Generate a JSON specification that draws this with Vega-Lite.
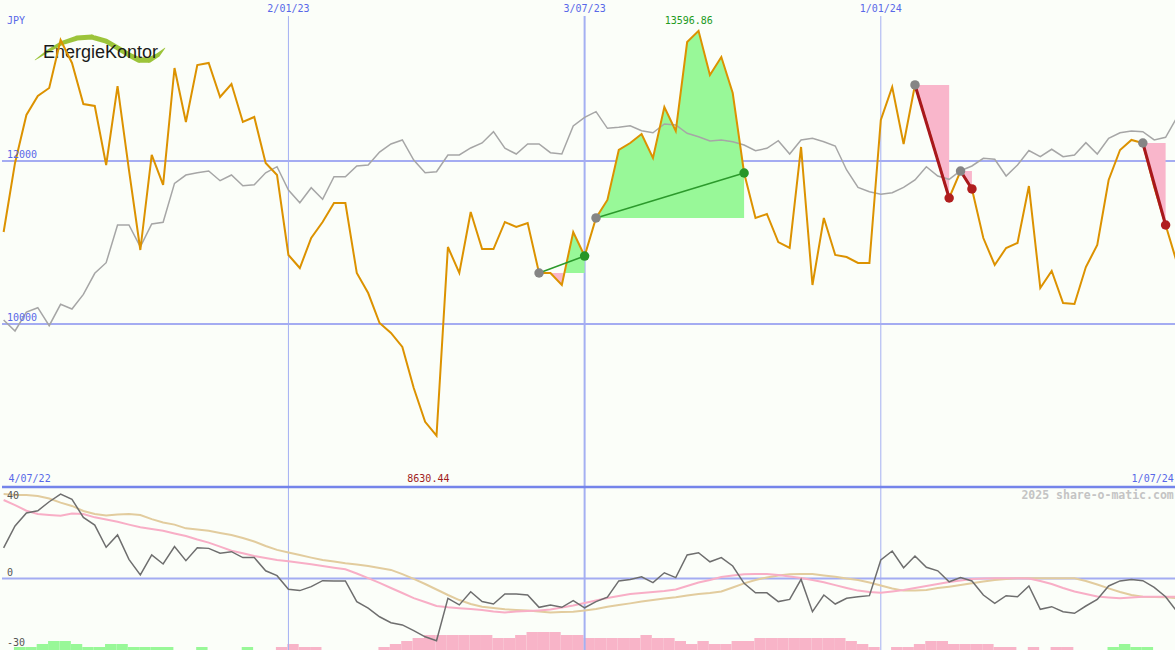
{
"$schema": "https://vega.github.io/schema/vega-lite/v6.json",
"padding": 0,
"spacing": 0,
"bounds": "flush",
"background": "#fbfef9",
"config": {"view": {"stroke": null}},
"datasets": {
"w": [
{"d":"2022-07-11","p":11129,"b":10049,"o":13.9,"m1":35.7,"m2":38.4,"h":0},
{"d":"2022-07-18","p":11976,"b":9914,"o":23.9,"m1":33.4,"m2":38.0,"h":1},
{"d":"2022-07-25","p":12565,"b":10147,"o":29.8,"m1":30.8,"m2":38.0,"h":1},
{"d":"2022-08-01","p":12798,"b":10200,"o":30.8,"m1":29.3,"m2":37.5,"h":2},
{"d":"2022-08-08","p":12896,"b":9979,"o":34.9,"m1":28.9,"m2":36.4,"h":3},
{"d":"2022-08-15","p":13485,"b":10242,"o":38.4,"m1":28.5,"m2":34.5,"h":3},
{"d":"2022-08-22","p":13203,"b":10184,"o":36.0,"m1":29.6,"m2":33.0,"h":2},
{"d":"2022-08-29","p":12699,"b":10364,"o":27.8,"m1":29.3,"m2":30.7,"h":1},
{"d":"2022-09-05","p":12675,"b":10622,"o":24.3,"m1":27.8,"m2":29.3,"h":1},
{"d":"2022-09-12","p":11951,"b":10752,"o":14.2,"m1":26.8,"m2":28.6,"h":2},
{"d":"2022-09-19","p":12920,"b":11215,"o":19.8,"m1":25.8,"m2":29.1,"h":2},
{"d":"2022-09-26","p":11890,"b":11215,"o":8.7,"m1":24.5,"m2":29.3,"h":1},
{"d":"2022-10-03","p":10908,"b":10948,"o":1.6,"m1":23.3,"m2":28.9,"h":1},
{"d":"2022-10-10","p":12074,"b":11227,"o":10.7,"m1":22.5,"m2":27.0,"h":1},
{"d":"2022-10-17","p":11706,"b":11248,"o":6.6,"m1":21.7,"m2":25.5,"h":1},
{"d":"2022-10-24","p":13141,"b":11726,"o":14.5,"m1":20.5,"m2":24.5,"h":0},
{"d":"2022-10-31","p":12479,"b":11828,"o":8.1,"m1":19.3,"m2":22.8,"h":0},
{"d":"2022-11-07","p":13178,"b":11856,"o":14.0,"m1":17.7,"m2":22.3,"h":1},
{"d":"2022-11-14","p":13203,"b":11877,"o":13.7,"m1":16.3,"m2":21.7,"h":0},
{"d":"2022-11-21","p":12785,"b":11758,"o":11.5,"m1":14.5,"m2":20.7,"h":0},
{"d":"2022-11-28","p":12945,"b":11828,"o":12.2,"m1":12.6,"m2":19.8,"h":0},
{"d":"2022-12-05","p":12479,"b":11697,"o":9.5,"m1":11.5,"m2":18.4,"h":1},
{"d":"2022-12-12","p":12540,"b":11709,"o":9.5,"m1":10.2,"m2":16.8,"h":0},
{"d":"2022-12-19","p":11976,"b":11856,"o":3.5,"m1":9.3,"m2":14.8,"h":0},
{"d":"2022-12-26","p":11828,"b":11930,"o":1.3,"m1":8.4,"m2":13.0,"h":-1},
{"d":"2023-01-02","p":10847,"b":11644,"o":-4.9,"m1":7.8,"m2":11.8,"h":-2},
{"d":"2023-01-09","p":10687,"b":11488,"o":-5.5,"m1":7.2,"m2":10.7,"h":-1},
{"d":"2023-01-16","p":11055,"b":11672,"o":-3.7,"m1":6.5,"m2":9.5,"h":-1},
{"d":"2023-01-23","p":11252,"b":11530,"o":-1.0,"m1":5.7,"m2":8.4,"h":0},
{"d":"2023-01-30","p":11485,"b":11807,"o":-1.1,"m1":4.9,"m2":7.7,"h":0},
{"d":"2023-02-06","p":11485,"b":11807,"o":-1.1,"m1":4.2,"m2":6.9,"h":0},
{"d":"2023-02-13","p":10626,"b":11939,"o":-10.5,"m1":2.3,"m2":6.4,"h":0},
{"d":"2023-02-20","p":10380,"b":11951,"o":-13.5,"m1":0.2,"m2":5.7,"h":0},
{"d":"2023-02-27","p":10012,"b":12110,"o":-17.4,"m1":-2.0,"m2":4.8,"h":-1},
{"d":"2023-03-06","p":9890,"b":12209,"o":-20.1,"m1":-4.3,"m2":3.9,"h":-2},
{"d":"2023-03-13","p":9718,"b":12258,"o":-21.1,"m1":-6.6,"m2":2.0,"h":-3},
{"d":"2023-03-20","p":9215,"b":12012,"o":-23.7,"m1":-8.9,"m2":-0.2,"h":-4},
{"d":"2023-03-27","p":8800,"b":11856,"o":-26.5,"m1":-10.7,"m2":-2.5,"h":-5},
{"d":"2023-04-03","p":8630.44,"b":11869,"o":-28.3,"m1":-12.5,"m2":-5.0,"h":-5},
{"d":"2023-04-10","p":10945,"b":12074,"o":-9.0,"m1":-13.1,"m2":-7.5,"h":-5},
{"d":"2023-04-17","p":10626,"b":12074,"o":-12.0,"m1":-13.5,"m2":-9.8,"h":-5},
{"d":"2023-04-24","p":11374,"b":12160,"o":-6.0,"m1":-13.9,"m2":-11.6,"h":-5},
{"d":"2023-05-01","p":10920,"b":12221,"o":-10.5,"m1":-14.3,"m2":-12.8,"h":-5},
{"d":"2023-05-08","p":10920,"b":12360,"o":-11.6,"m1":-15.0,"m2":-13.4,"h":-4},
{"d":"2023-05-15","p":11252,"b":12156,"o":-7.0,"m1":-15.5,"m2":-14.0,"h":-4},
{"d":"2023-05-22","p":11190,"b":12086,"o":-7.0,"m1":-15.0,"m2":-14.3,"h":-5},
{"d":"2023-05-29","p":11239,"b":12209,"o":-7.5,"m1":-14.8,"m2":-14.5,"h":-6},
{"d":"2023-06-05","p":10626,"b":12209,"o":-13.1,"m1":-14.5,"m2":-15.0,"h":-6},
{"d":"2023-06-12","p":10626,"b":12102,"o":-12.0,"m1":-14.1,"m2":-15.4,"h":-6},
{"d":"2023-06-19","p":10479,"b":12086,"o":-13.1,"m1":-13.2,"m2":-15.2,"h":-5},
{"d":"2023-06-26","p":11129,"b":12430,"o":-10.1,"m1":-12.3,"m2":-15.1,"h":-5},
{"d":"2023-07-03","p":10834,"b":12536,"o":-13.3,"m1":-11.1,"m2":-14.5,"h":-4},
{"d":"2023-07-10","p":11301,"b":12605,"o":-10.5,"m1":-10.0,"m2":-13.9,"h":-4},
{"d":"2023-07-17","p":11522,"b":12401,"o":-8.5,"m1":-8.9,"m2":-12.8,"h":-4},
{"d":"2023-07-24","p":12135,"b":12414,"o":-1.1,"m1":-8.0,"m2":-12.0,"h":-4},
{"d":"2023-07-31","p":12221,"b":12433,"o":-0.4,"m1":-7.0,"m2":-11.3,"h":-4},
{"d":"2023-08-07","p":12331,"b":12372,"o":0.8,"m1":-6.6,"m2":-10.5,"h":-5},
{"d":"2023-08-14","p":12037,"b":12347,"o":-1.9,"m1":-6.1,"m2":-9.8,"h":-4},
{"d":"2023-08-21","p":12663,"b":12454,"o":2.6,"m1":-5.7,"m2":-9.1,"h":-4},
{"d":"2023-08-28","p":12368,"b":12442,"o":0.4,"m1":-5.0,"m2":-8.5,"h":-3},
{"d":"2023-09-04","p":13460,"b":12340,"o":10.7,"m1":-3.4,"m2":-7.7,"h":-2},
{"d":"2023-09-11","p":13596.86,"b":12298,"o":11.7,"m1":-1.8,"m2":-7.0,"h":-3},
{"d":"2023-09-18","p":13055,"b":12245,"o":7.6,"m1":-0.7,"m2":-6.6,"h":-2},
{"d":"2023-09-25","p":13276,"b":12258,"o":9.5,"m1":0.7,"m2":-5.9,"h":-2},
{"d":"2023-10-02","p":12834,"b":12237,"o":5.7,"m1":1.4,"m2":-4.1,"h":-3},
{"d":"2023-10-09","p":11853,"b":12196,"o":-2.2,"m1":1.9,"m2":-2.2,"h":-3},
{"d":"2023-10-16","p":11301,"b":12126,"o":-6.5,"m1":2.0,"m2":-0.7,"h":-4},
{"d":"2023-10-23","p":11350,"b":12156,"o":-6.5,"m1":2.0,"m2":0.5,"h":-4},
{"d":"2023-10-30","p":11006,"b":12249,"o":-10.5,"m1":1.6,"m2":1.4,"h":-4},
{"d":"2023-11-06","p":10933,"b":12086,"o":-9.5,"m1":0.9,"m2":1.9,"h":-4},
{"d":"2023-11-13","p":12172,"b":12258,"o":-0.4,"m1":0.2,"m2":2.0,"h":-4},
{"d":"2023-11-20","p":10479,"b":12279,"o":-15.1,"m1":-0.7,"m2":2.0,"h":-4},
{"d":"2023-11-27","p":11301,"b":12237,"o":-7.5,"m1":-1.7,"m2":1.4,"h":-4},
{"d":"2023-12-04","p":10847,"b":12184,"o":-11.6,"m1":-3.0,"m2":0.8,"h":-4},
{"d":"2023-12-11","p":10822,"b":11890,"o":-9.0,"m1":-4.3,"m2":0.0,"h":-3},
{"d":"2023-12-18","p":10749,"b":11677,"o":-8.3,"m1":-5.5,"m2":-0.7,"h":-2},
{"d":"2023-12-25","p":10749,"b":11623,"o":-7.8,"m1":-6.1,"m2":-1.8,"h":-1},
{"d":"2024-01-01","p":12503,"b":11591,"o":8.4,"m1":-6.5,"m2":-3.2,"h":0},
{"d":"2024-01-08","p":12908,"b":11611,"o":12.5,"m1":-5.9,"m2":-4.5,"h":-1},
{"d":"2024-01-15","p":12209,"b":11677,"o":4.9,"m1":-5.2,"m2":-5.5,"h":-1},
{"d":"2024-01-22","p":12933,"b":11767,"o":10.2,"m1":-4.3,"m2":-5.4,"h":-2},
{"d":"2024-01-29","p":12479,"b":11930,"o":5.1,"m1":-3.4,"m2":-5.2,"h":-3},
{"d":"2024-02-05","p":12012,"b":11816,"o":3.5,"m1":-2.5,"m2":-4.3,"h":-3},
{"d":"2024-02-12","p":11546,"b":11775,"o":-1.5,"m1":-1.6,"m2":-3.7,"h":-2},
{"d":"2024-02-19","p":11877,"b":11881,"o":0.4,"m1":-0.9,"m2":-3.0,"h":-2},
{"d":"2024-02-26","p":11657,"b":11939,"o":-1.1,"m1":-0.2,"m2":-2.2,"h":-2},
{"d":"2024-03-04","p":11055,"b":12033,"o":-7.5,"m1":0.0,"m2":-1.4,"h":-2},
{"d":"2024-03-11","p":10724,"b":12021,"o":-11.3,"m1":0.1,"m2":-0.7,"h":-1},
{"d":"2024-03-18","p":10933,"b":11816,"o":-7.8,"m1":0.1,"m2":-0.2,"h":-1},
{"d":"2024-03-25","p":10994,"b":11951,"o":-8.3,"m1":0.1,"m2":0.1,"h":0},
{"d":"2024-04-01","p":11693,"b":12129,"o":-3.4,"m1":0.0,"m2":0.1,"h":-1},
{"d":"2024-04-08","p":10442,"b":12053,"o":-14.0,"m1":-1.1,"m2":0.1,"h":0},
{"d":"2024-04-15","p":10650,"b":12144,"o":-12.8,"m1":-2.5,"m2":0.1,"h":-1},
{"d":"2024-04-22","p":10258,"b":12053,"o":-15.1,"m1":-4.3,"m2":0.1,"h":-1},
{"d":"2024-04-29","p":10245,"b":12074,"o":-15.8,"m1":-5.9,"m2":0.1,"h":0},
{"d":"2024-05-06","p":10699,"b":12225,"o":-12.5,"m1":-7.0,"m2":-1.1,"h":0},
{"d":"2024-05-13","p":10969,"b":12086,"o":-9.5,"m1":-8.2,"m2":-2.7,"h":0},
{"d":"2024-05-20","p":11767,"b":12279,"o":-3.4,"m1":-8.6,"m2":-4.5,"h":1},
{"d":"2024-05-27","p":12135,"b":12347,"o":-1.1,"m1":-9.0,"m2":-6.1,"h":2},
{"d":"2024-06-03","p":12258,"b":12368,"o":-0.4,"m1":-8.6,"m2":-7.5,"h":1},
{"d":"2024-06-10","p":12221,"b":12360,"o":-1.0,"m1":-8.3,"m2":-8.3,"h":1},
{"d":"2024-06-17","p":11681,"b":12258,"o":-4.0,"m1":-8.3,"m2":-8.4,"h":0},
{"d":"2024-06-24","p":11215,"b":12291,"o":-8.3,"m1":-8.3,"m2":-8.5,"h":0},
{"d":"2024-07-01","p":10749,"b":12536,"o":-15.1,"m1":-8.3,"m2":-9.0,"h":0}
],
"fills": [
{"t":"1a","r":"loss","d":"2023-06-12","p":10626,"e":10626},
{"t":"1a","r":"loss","d":"2023-06-19","p":10479,"e":10626},
{"t":"1a","r":"loss","d":"2023-06-21","p":10626,"e":10626},
{"t":"1b","r":"win","d":"2023-06-21","p":10626,"e":10626},
{"t":"1b","r":"win","d":"2023-06-26","p":11129,"e":10626},
{"t":"1b","r":"win","d":"2023-07-03","p":10834,"e":10626},
{"t":"2","r":"win","d":"2023-07-10","p":11301,"e":11301},
{"t":"2","r":"win","d":"2023-07-17","p":11522,"e":11301},
{"t":"2","r":"win","d":"2023-07-24","p":12135,"e":11301},
{"t":"2","r":"win","d":"2023-07-31","p":12221,"e":11301},
{"t":"2","r":"win","d":"2023-08-07","p":12331,"e":11301},
{"t":"2","r":"win","d":"2023-08-14","p":12037,"e":11301},
{"t":"2","r":"win","d":"2023-08-21","p":12663,"e":11301},
{"t":"2","r":"win","d":"2023-08-28","p":12368,"e":11301},
{"t":"2","r":"win","d":"2023-09-04","p":13460,"e":11301},
{"t":"2","r":"win","d":"2023-09-11","p":13596.86,"e":11301},
{"t":"2","r":"win","d":"2023-09-18","p":13055,"e":11301},
{"t":"2","r":"win","d":"2023-09-25","p":13276,"e":11301},
{"t":"2","r":"win","d":"2023-10-02","p":12834,"e":11301},
{"t":"2","r":"win","d":"2023-10-09","p":11853,"e":11301},
{"t":"3","r":"loss","d":"2024-01-22","p":12933,"e":12933},
{"t":"3","r":"loss","d":"2024-01-29","p":12479,"e":12933},
{"t":"3","r":"loss","d":"2024-02-05","p":12012,"e":12933},
{"t":"3","r":"loss","d":"2024-02-12","p":11546,"e":12933},
{"t":"4","r":"loss","d":"2024-02-19","p":11877,"e":11877},
{"t":"4","r":"loss","d":"2024-02-26","p":11657,"e":11877},
{"t":"5","r":"loss","d":"2024-06-10","p":12221,"e":12221},
{"t":"5","r":"loss","d":"2024-06-17","p":11681,"e":12221},
{"t":"5","r":"loss","d":"2024-06-24","p":11215,"e":12221}
],
"tl": [
{"t":1,"r":"win","k":"entry","d":"2023-06-05","p":10626},
{"t":1,"r":"win","k":"exit","d":"2023-07-03","p":10834},
{"t":2,"r":"win","k":"entry","d":"2023-07-10","p":11301},
{"t":2,"r":"win","k":"exit","d":"2023-10-09","p":11853},
{"t":3,"r":"loss","k":"entry","d":"2024-01-22","p":12933},
{"t":3,"r":"loss","k":"exit","d":"2024-02-12","p":11546},
{"t":4,"r":"loss","k":"entry","d":"2024-02-19","p":11877},
{"t":4,"r":"loss","k":"exit","d":"2024-02-26","p":11657},
{"t":5,"r":"loss","k":"entry","d":"2024-06-10","p":12221},
{"t":5,"r":"loss","k":"exit","d":"2024-06-24","p":11215}
],
"markers": [
{"d":"2023-01-02","major":false},
{"d":"2023-07-03","major":true},
{"d":"2024-01-01","major":false}
],
"logo": [
{"d":"2022-07-30T07:00:00Z","p":13239,"w":0.5},
{"d":"2022-08-07T06:00:00Z","p":13350,"w":3},
{"d":"2022-08-15T21:00:00Z","p":13448,"w":4},
{"d":"2022-08-25T02:00:00Z","p":13509,"w":5},
{"d":"2022-09-03T07:00:00Z","p":13521,"w":5},
{"d":"2022-09-11T22:00:00Z","p":13472,"w":5},
{"d":"2022-09-19T07:00:00Z","p":13386,"w":5},
{"d":"2022-09-26T01:00:00Z","p":13301,"w":5},
{"d":"2022-10-02T04:00:00Z","p":13239,"w":5.5},
{"d":"2022-10-08T08:00:00Z","p":13239,"w":5.5},
{"d":"2022-10-13T21:00:00Z","p":13301,"w":4},
{"d":"2022-10-18T04:00:00Z","p":13386,"w":0.5}
]
},
"vconcat": [
{
"width": 1175,
"height": 487,
"layer": [
{"data": {"name": "markers"},
 "mark": {"type": "rule", "color": "#a4b0f2"},
 "encoding": {
  "x": {"field": "d", "type": "temporal", "scale": {"type": "utc", "domain": [{"year": 2022, "month": 7, "date": 10, "utc": true}, {"year": 2024, "month": 7, "date": 1, "utc": true}]}, "axis": null},
  "y": {"datum": 13779, "type": "quantitative", "scale": {"domain": [8000, 13975.5], "zero": false, "nice": false}, "axis": null},
  "y2": {"datum": 8000},
  "strokeWidth": {"condition": {"test": "datum.major", "value": 2}, "value": 1}}},
{"data": {"values": [{"p": 12000}, {"p": 10000}]},
 "mark": {"type": "rule", "color": "#a4acf2", "strokeWidth": 2},
 "encoding": {"y": {"field": "p", "type": "quantitative", "axis": null}}},
{"data": {"name": "logo"},
 "mark": {"type": "trail", "color": "#9cc43a"},
 "encoding": {
  "x": {"field": "d", "type": "temporal", "axis": null},
  "y": {"field": "p", "type": "quantitative", "axis": null},
  "size": {"field": "w", "type": "quantitative", "scale": {"domain": [0, 7], "range": [0, 7]}, "legend": null}}},
{"data": {"values": [{"d": "2022-09-08T12:00:00Z", "p": 13263, "s": "EnergieKontor"}]},
 "mark": {"type": "text", "font": "Liberation Sans", "fontSize": 18, "color": "#1a1a1a", "align": "center", "baseline": "alphabetic"},
 "encoding": {"x": {"field": "d", "type": "temporal", "axis": null}, "y": {"field": "p", "type": "quantitative", "axis": null}, "text": {"field": "s"}}},
{"data": {"name": "fills"},
 "transform": [{"filter": "datum.r == 'win'"}],
 "mark": {"type": "area", "color": "#98f898", "opacity": 1},
 "encoding": {
  "x": {"field": "d", "type": "temporal", "axis": null},
  "y": {"field": "p", "type": "quantitative", "axis": null},
  "y2": {"field": "e"},
  "detail": {"field": "t"}}},
{"data": {"name": "fills"},
 "transform": [{"filter": "datum.r == 'loss'"}],
 "mark": {"type": "area", "color": "#f9b6cb", "opacity": 1},
 "encoding": {
  "x": {"field": "d", "type": "temporal", "axis": null},
  "y": {"field": "p", "type": "quantitative", "axis": null},
  "y2": {"field": "e"},
  "detail": {"field": "t"}}},
{"data": {"name": "w"},
 "mark": {"type": "line", "color": "#a6a6a6", "strokeWidth": 1.5, "clip": true},
 "encoding": {"x": {"field": "d", "type": "temporal", "axis": null}, "y": {"field": "b", "type": "quantitative", "axis": null}}},
{"data": {"name": "w"},
 "mark": {"type": "line", "color": "#dc9200", "strokeWidth": 2, "clip": true},
 "encoding": {"x": {"field": "d", "type": "temporal", "axis": null}, "y": {"field": "p", "type": "quantitative", "axis": null}}},
{"data": {"name": "tl"},
 "transform": [{"filter": "datum.r == 'win'"}],
 "mark": {"type": "line", "color": "#2c9a2c", "strokeWidth": 1.5},
 "encoding": {"x": {"field": "d", "type": "temporal", "axis": null}, "y": {"field": "p", "type": "quantitative", "axis": null}, "detail": {"field": "t"}}},
{"data": {"name": "tl"},
 "transform": [{"filter": "datum.r == 'loss'"}],
 "mark": {"type": "line", "color": "#a8181c", "strokeWidth": 3},
 "encoding": {"x": {"field": "d", "type": "temporal", "axis": null}, "y": {"field": "p", "type": "quantitative", "axis": null}, "detail": {"field": "t"}}},
{"data": {"name": "tl"},
 "transform": [{"filter": "datum.k == 'entry'"}],
 "mark": {"type": "circle", "color": "#858585", "opacity": 1, "size": 90},
 "encoding": {"x": {"field": "d", "type": "temporal", "axis": null}, "y": {"field": "p", "type": "quantitative", "axis": null}}},
{"data": {"name": "tl"},
 "transform": [{"filter": "datum.k == 'exit' && datum.r == 'win'"}],
 "mark": {"type": "circle", "color": "#279627", "opacity": 1, "size": 90},
 "encoding": {"x": {"field": "d", "type": "temporal", "axis": null}, "y": {"field": "p", "type": "quantitative", "axis": null}}},
{"data": {"name": "tl"},
 "transform": [{"filter": "datum.k == 'exit' && datum.r == 'loss'"}],
 "mark": {"type": "circle", "color": "#b01e1e", "opacity": 1, "size": 90},
 "encoding": {"x": {"field": "d", "type": "temporal", "axis": null}, "y": {"field": "p", "type": "quantitative", "axis": null}}},
{"data": {"values": [
  {"d": "2022-07-13", "p": 13718, "s": "JPY"},
  {"d": "2022-07-13", "p": 12075, "s": "12000"},
  {"d": "2022-07-13", "p": 10075, "s": "10000"},
  {"d": "2022-07-14", "p": 8104, "s": "4/07/22"}]},
 "mark": {"type": "text", "font": "DejaVu Sans Mono", "fontSize": 10, "color": "#5868e8", "align": "left", "baseline": "middle"},
 "encoding": {"x": {"field": "d", "type": "temporal", "axis": null}, "y": {"field": "p", "type": "quantitative", "axis": null}, "text": {"field": "s"}}},
{"data": {"values": [
  {"d": "2023-01-02", "p": 13865, "s": "2/01/23"},
  {"d": "2023-07-03", "p": 13865, "s": "3/07/23"},
  {"d": "2024-01-01", "p": 13865, "s": "1/01/24"}]},
 "mark": {"type": "text", "font": "DejaVu Sans Mono", "fontSize": 10, "color": "#5868e8", "align": "center", "baseline": "middle"},
 "encoding": {"x": {"field": "d", "type": "temporal", "axis": null}, "y": {"field": "p", "type": "quantitative", "axis": null}, "text": {"field": "s"}}},
{"data": {"values": [{"d": "2024-06-29", "p": 8104, "s": "1/07/24"}]},
 "mark": {"type": "text", "font": "DejaVu Sans Mono", "fontSize": 10, "color": "#5868e8", "align": "right", "baseline": "middle"},
 "encoding": {"x": {"field": "d", "type": "temporal", "axis": null}, "y": {"field": "p", "type": "quantitative", "axis": null}, "text": {"field": "s"}}},
{"data": {"values": [{"d": "2023-09-05", "p": 13718, "s": "13596.86"}]},
 "mark": {"type": "text", "font": "DejaVu Sans Mono", "fontSize": 10, "color": "#229a22", "align": "center", "baseline": "middle"},
 "encoding": {"x": {"field": "d", "type": "temporal", "axis": null}, "y": {"field": "p", "type": "quantitative", "axis": null}, "text": {"field": "s"}}},
{"data": {"values": [{"d": "2023-03-29", "p": 8104, "s": "8630.44"}]},
 "mark": {"type": "text", "font": "DejaVu Sans Mono", "fontSize": 10, "color": "#a01c1c", "align": "center", "baseline": "middle"},
 "encoding": {"x": {"field": "d", "type": "temporal", "axis": null}, "y": {"field": "p", "type": "quantitative", "axis": null}, "text": {"field": "s"}}}
]
},
{
"width": 1175,
"height": 163,
"layer": [
{"data": {"name": "w"},
 "transform": [{"filter": "datum.h > 0"}],
 "mark": {"type": "bar", "color": "#98f898", "binSpacing": 0},
 "encoding": {
  "x": {"field": "d", "timeUnit": "utcyearweek", "type": "temporal", "scale": {"type": "utc", "domain": [{"year": 2022, "month": 7, "date": 10, "utc": true}, {"year": 2024, "month": 7, "date": 1, "utc": true}]}, "axis": null},
  "y": {"field": "h", "type": "quantitative", "scale": {"domain": [0, 54.33], "nice": false}, "axis": null},
  "y2": {"datum": 0}}},
{"data": {"name": "w"},
 "transform": [{"filter": "datum.h < 0"}],
 "mark": {"type": "bar", "color": "#f8b4c8", "binSpacing": 0},
 "encoding": {
  "x": {"field": "d", "timeUnit": "utcyearweek", "type": "temporal", "axis": null},
  "y": {"field": "h", "type": "quantitative", "scale": {"domain": [-54.33, 0], "nice": false, "reverse": true}, "axis": null},
  "y2": {"datum": 0}}},
{"layer": [
 {"data": {"name": "markers"},
  "mark": {"type": "rule", "color": "#a4b0f2"},
  "encoding": {
   "x": {"field": "d", "type": "temporal", "axis": null},
   "strokeWidth": {"condition": {"test": "datum.major", "value": 2}, "value": 1}}},
 {"data": {"values": [{"v": 0}]},
  "mark": {"type": "rule", "color": "#a4acf2", "strokeWidth": 2},
  "encoding": {"y": {"field": "v", "type": "quantitative", "scale": {"domain": [-32.5, 41.6], "zero": false, "nice": false}, "axis": null}}},
 {"data": {"values": [{"v": 41.6}]},
  "mark": {"type": "rule", "color": "#7484ea", "strokeWidth": 2.5},
  "encoding": {"y": {"field": "v", "type": "quantitative", "axis": null}}},
 {"data": {"name": "w"},
  "mark": {"type": "line", "color": "#e2cc9e", "strokeWidth": 2, "clip": true},
  "encoding": {"x": {"field": "d", "type": "temporal", "axis": null}, "y": {"field": "m2", "type": "quantitative", "axis": null}}},
 {"data": {"name": "w"},
  "mark": {"type": "line", "color": "#f8aec6", "strokeWidth": 2, "clip": true},
  "encoding": {"x": {"field": "d", "type": "temporal", "axis": null}, "y": {"field": "m1", "type": "quantitative", "axis": null}}},
 {"data": {"name": "w"},
  "mark": {"type": "line", "color": "#6e6e6e", "strokeWidth": 1.5, "clip": true},
  "encoding": {"x": {"field": "d", "type": "temporal", "axis": null}, "y": {"field": "o", "type": "quantitative", "axis": null}}},
 {"data": {"values": [
   {"d": "2022-07-13", "v": 37.5, "s": "40"},
   {"d": "2022-07-13", "v": 2.5, "s": "0"},
   {"d": "2022-07-13", "v": -29.1, "s": "-30"}]},
  "mark": {"type": "text", "font": "DejaVu Sans Mono", "fontSize": 10, "color": "#555555", "align": "left", "baseline": "middle"},
  "encoding": {"x": {"field": "d", "type": "temporal", "axis": null}, "y": {"field": "v", "type": "quantitative", "axis": null}, "text": {"field": "s"}}},
 {"data": {"values": [{"d": "2024-06-29", "v": 37.3, "s": "2025 share-o-matic.com"}]},
  "mark": {"type": "text", "font": "DejaVu Sans Mono", "fontSize": 11.5, "fontWeight": "bold", "color": "#c4c4c4", "align": "right", "baseline": "middle"},
  "encoding": {"x": {"field": "d", "type": "temporal", "axis": null}, "y": {"field": "v", "type": "quantitative", "axis": null}, "text": {"field": "s"}}}
]}
],
"resolve": {"scale": {"y": "independent"}}
}
]
}
